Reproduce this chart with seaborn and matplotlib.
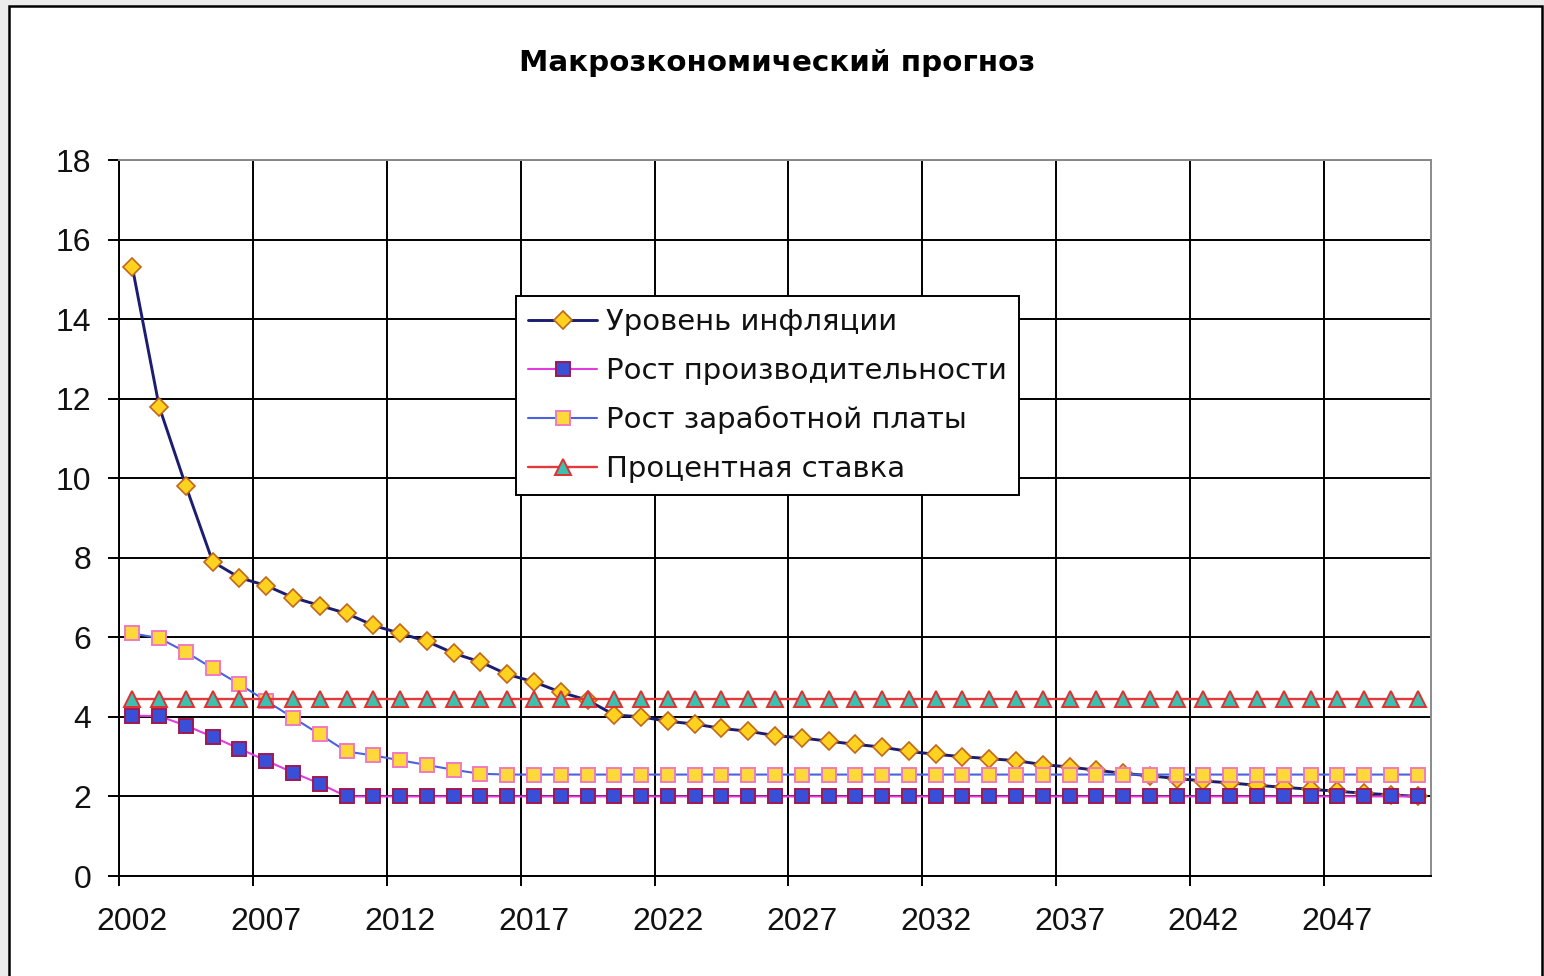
import matplotlib
matplotlib.use("Agg")
import matplotlib.pyplot as plt
from matplotlib.patches import Rectangle
from matplotlib.ticker import FixedLocator
import seaborn as sns
import pandas as pd

# ---------------- data ----------------
years = list(range(2002, 2051))

inflation = [15.3, 11.8, 9.8, 7.9, 7.5, 7.3, 7.0, 6.8, 6.6, 6.3,
             6.1, 5.9, 5.6, 5.38, 5.07, 4.88, 4.62, 4.42, 4.05, 4.0,
             3.89, 3.82, 3.71, 3.64, 3.53, 3.47, 3.39, 3.31, 3.24, 3.13,
             3.06, 3.0, 2.95, 2.9, 2.8, 2.74, 2.66, 2.58, 2.52, 2.45,
             2.39, 2.34, 2.28, 2.23, 2.18, 2.13, 2.08, 2.04, 2.0]

productivity = [4.03, 4.02, 3.78, 3.5, 3.2, 2.9, 2.6, 2.32, 2.0, 2.0,
                2.0, 2.0, 2.0, 2.0, 2.0, 2.0, 2.0, 2.0, 2.0, 2.0,
                2.0, 2.0, 2.0, 2.0, 2.0, 2.0, 2.0, 2.0, 2.0, 2.0,
                2.0, 2.0, 2.0, 2.0, 2.0, 2.0, 2.0, 2.0, 2.0, 2.0,
                2.0, 2.0, 2.0, 2.0, 2.0, 2.0, 2.0, 2.0, 2.0]

wages = [6.1, 5.98, 5.63, 5.22, 4.82, 4.4, 3.98, 3.56, 3.13, 3.03,
         2.91, 2.79, 2.67, 2.57, 2.55, 2.55, 2.55, 2.55, 2.55, 2.55,
         2.55, 2.55, 2.55, 2.55, 2.55, 2.55, 2.55, 2.55, 2.55, 2.55,
         2.55, 2.55, 2.55, 2.55, 2.55, 2.55, 2.55, 2.55, 2.55, 2.55,
         2.55, 2.55, 2.55, 2.55, 2.55, 2.55, 2.55, 2.55, 2.55]

interest = [4.45, 4.45, 4.45, 4.45, 4.45, 4.45, 4.45, 4.45, 4.45, 4.45,
            4.45, 4.45, 4.45, 4.45, 4.45, 4.45, 4.45, 4.45, 4.45, 4.45,
            4.45, 4.45, 4.45, 4.45, 4.45, 4.45, 4.45, 4.45, 4.45, 4.45,
            4.45, 4.45, 4.45, 4.45, 4.45, 4.45, 4.45, 4.45, 4.45, 4.45,
            4.45, 4.45, 4.45, 4.45, 4.45, 4.45, 4.45, 4.45, 4.45]

series_names = ["Уровень инфляции", "Рост производительности",
                "Рост заработной платы", "Процентная ставка"]
chart_title = "Макрозкономический прогноз"
x_tick_years = [2002, 2007, 2012, 2017, 2022, 2027, 2032, 2037, 2042, 2047]
y_ticks = [0, 2, 4, 6, 8, 10, 12, 14, 16, 18]

# ---------------- style ----------------
sns.set_theme(style="white")
plt.rcParams["font.family"] = ["Liberation Sans", "DejaVu Sans"]

W, H = 1544, 976
fig = plt.figure(figsize=(W / 100, H / 100), dpi=100, facecolor="#ececec")
frame = Rectangle((9 / W, -0.02), (1542 - 9) / W, 1.02 - 6 / H,
                  transform=fig.transFigure, facecolor="white",
                  edgecolor="black", linewidth=1.8, zorder=-1)
fig.add_artist(frame)

ax = fig.add_axes([119 / W, 1 - 876 / H, (1431 - 119) / W, (876 - 160) / H])
ax.set_facecolor("white")

styles = [
    dict(color="#1c1c70", marker="D", markersize=9.3, markerfacecolor="#ffd21f",
         markeredgecolor="#c0661a", markeredgewidth=1.2, linewidth=2.1),
    dict(color="#e23be0", marker="s", markersize=10.5, markerfacecolor="#3a4fd8",
         markeredgecolor="#a01850", markeredgewidth=1.4, linewidth=1.5),
    dict(color="#4a62e0", marker="s", markersize=10.5, markerfacecolor="#ffd83a",
         markeredgecolor="#f07ac0", markeredgewidth=1.4, linewidth=1.5),
    dict(color="#e23a3a", marker="^", markersize=11, markerfacecolor="#3cc0b0",
         markeredgecolor="#e03030", markeredgewidth=1.4, linewidth=1.7),
]

for name, vals, st in zip(series_names, [inflation, productivity, wages, interest], styles):
    df = pd.DataFrame({"year": years, "value": vals})
    sns.lineplot(data=df, x="year", y="value", ax=ax, errorbar=None,
                 label=name, **st)

ax.set_xlim(2001.5, 2050.5)
ax.set_ylim(0, 18)
ax.set_xticks(x_tick_years)
ax.set_xticklabels([str(y) for y in x_tick_years])
ax.xaxis.set_minor_locator(FixedLocator([2001.5 + 5 * k for k in range(10)]))
ax.set_yticks(y_ticks)
ax.set_yticklabels([str(v) for v in y_ticks])
ax.set_xlabel("")
ax.set_ylabel("")

ax.tick_params(axis="x", which="major", length=0, pad=22, labelsize=23,
               labelcolor="#111111")
ax.tick_params(axis="x", which="minor", length=7, width=1.4, direction="out",
               color="black", bottom=True)
ax.tick_params(axis="y", which="major", length=8, width=1.4, direction="out",
               pad=12, labelsize=23, color="black", labelcolor="#111111", left=True)

ax.grid(False)
ax.xaxis.grid(True, which="minor", color="black", linewidth=1.4)
ax.yaxis.grid(True, which="major", color="black", linewidth=1.4)
ax.set_axisbelow(True)

for side in ["left", "bottom"]:
    ax.spines[side].set_color("black")
    ax.spines[side].set_linewidth(1.4)
for side in ["top", "right"]:
    ax.spines[side].set_color("#8a8a8a")
    ax.spines[side].set_linewidth(1.4)

fig.text(777 / W, 1 - 63 / H, chart_title, ha="center", va="center",
         fontsize=21.2, fontweight="bold", family=["DejaVu Sans"], color="black")

leg = ax.legend(loc="upper left", bbox_to_anchor=(516 / W, 1 - 296 / H),
                bbox_transform=fig.transFigure, frameon=True, fancybox=False,
                edgecolor="black", framealpha=1, handlelength=2.35,
                labelspacing=0.71, borderpad=0.42, handletextpad=0.3,
                borderaxespad=0, labelcolor="#111111",
                prop={"family": ["DejaVu Sans"], "size": 21.0})
leg.get_frame().set_linewidth(1.4)

fig.savefig("out.png", dpi=100, facecolor=fig.get_facecolor())
